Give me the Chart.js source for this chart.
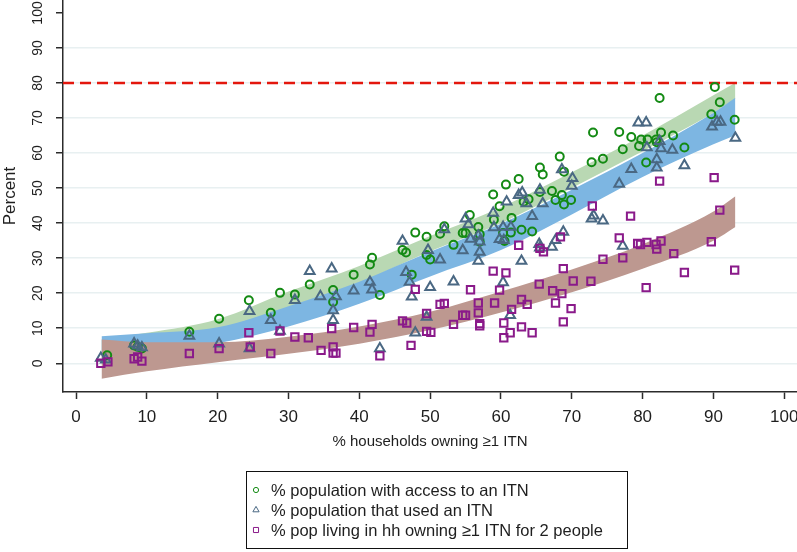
<!DOCTYPE html>
<html>
<head>
<meta charset="utf-8">
<script src="https://cdn.jsdelivr.net/npm/chart.js@4.4.1/dist/chart.umd.min.js"></script>
<style>
  html, body { margin: 0; padding: 0; background: #fff; }
  #wrap { width: 797px; height: 552px; }
</style>
</head>
<body>
<div id="wrap"><canvas id="chart" width="797" height="552"></canvas></div>
<script>
// Axis ranges and ticks
const X_MIN = -1.84, X_MAX = 101.8;
const Y_MIN = -8.2, Y_MAX = 103.7;
const X_TICKS = [0, 10, 20, 30, 40, 50, 60, 70, 80, 90, 100];
const Y_TICKS = [0, 10, 20, 30, 40, 50, 60, 70, 80, 90, 100];
const TARGET = 80;

const LABELS = [
    "% population with access to an ITN",
    "% population that used an ITN",
    "% pop living in hh owning \u22651 ITN for 2 people",
];

// Scatter points: [% households owning >=1 ITN, percent]
const ACCESS = [
    [4.4, 2.3], [8.2, 5.1], [8.7, 4.7], [9.3, 4.2], [16, 9], [20.2, 12.7], [24.4, 18], [27.5, 14.4],
    [28.8, 20.1], [30.9, 19.6], [33, 22.5], [36.3, 20.9], [36.3, 17.5], [39.2, 25.3], [41.5, 28.2],
    [41.8, 30.1], [42.9, 19.5], [46.1, 32.3], [46.6, 31.6], [47.4, 25.3], [47.9, 37.3], [49.5, 36.1],
    [49.5, 30.9], [50, 29.6], [51.4, 37], [52, 39.1], [53.3, 33.8], [54.6, 37.2], [55, 37.2],
    [55.6, 42.3], [56.8, 38.9], [57, 36.8], [57, 34.7], [58.9, 48.2], [59, 41], [59.8, 44.8],
    [60.3, 37.2], [60.5, 34.9], [60.7, 51], [61.4, 37.3], [61.5, 41.5], [62.5, 52.6], [62.9, 38.1],
    [63.2, 46.1], [63.9, 46.8], [64.4, 37.6], [65.5, 48.9], [65.5, 55.9], [65.9, 53.9], [67.2, 49.2],
    [67.7, 46.6], [68.3, 59], [68.6, 48], [68.9, 45.3], [68.9, 54.7], [69.9, 46.6], [72.8, 57.4],
    [73, 65.9], [74.4, 58.4], [76.7, 66], [77.2, 61.1], [78.4, 64.6], [79.5, 62], [79.8, 63.9],
    [80.5, 57.3], [80.7, 63.9], [81.9, 63.9], [82, 63.1], [82.4, 75.7], [82.6, 65.9], [84.3, 65],
    [85.9, 61.6], [89.7, 71.1], [90.2, 78.9], [90.9, 74.5], [93, 69.5],
];
const USED = [
    [3.5, 1.5], [4.2, 1.0], [8.2, 5.6], [8.7, 5.0], [9.3, 4.5], [16, 7.8], [20.2, 5.6], [24.5, 14.9],
    [24.5, 4.2], [27.5, 12.3], [28.8, 9.2], [30.9, 18], [33, 26.3], [34.5, 19.1], [36.1, 27],
    [36.3, 15.1], [36.3, 12.3], [36.7, 19.1], [39.2, 20.7], [41.5, 23.2], [41.8, 21], [42.9, 4.2],
    [46.1, 34.9], [46.6, 26], [47.1, 23.2], [47.4, 19], [47.9, 8.7], [49.5, 13.2], [49.7, 32.3],
    [50, 21.7], [51.4, 29.6], [52, 38.2], [53.3, 23.3], [54.6, 32.2], [55, 41.3], [55.4, 39.6],
    [55.7, 35.5], [56.8, 29.2], [56.8, 36.4], [57, 31.8], [57, 34.7], [58.9, 42.9], [59, 38.8],
    [59.8, 35.4], [60.3, 38.9], [60.3, 23.1], [60.4, 35.1], [60.8, 46.1], [61.3, 13.7], [61.4, 38.9],
    [62.5, 48], [62.9, 29.2], [63, 48.7], [63.6, 45.6], [64.4, 42], [65.4, 34], [65.5, 33],
    [65.5, 49.5], [65.9, 45.6], [67.2, 33.2], [67.7, 35.1], [68.6, 55.3], [68.8, 37.5], [70, 50.6],
    [70.1, 52.8], [72.8, 41.3], [73.1, 42.1], [74.4, 40.7], [76.7, 51.2], [77.2, 33.5], [78.4, 55.4],
    [79.4, 68.7], [80.5, 68.7], [80.6, 61.6], [82, 55.8], [82, 58.2], [82.4, 63.4], [82.6, 61.3],
    [84.2, 60.9], [85.9, 56.5], [89.8, 67.5], [90.5, 68.9], [91, 68.9], [93.1, 64.3],
];
const TWO_PER_NET = [
    [3.5, 0], [4.5, 0.4], [8.2, 1.3], [8.7, 1.8], [9.3, 0.6], [16, 2.8], [20.2, 4.2], [24.4, 8.7],
    [24.6, 4.7], [27.5, 2.8], [28.8, 9.2], [30.9, 7.5], [32.8, 7.3], [34.6, 3.7], [36.1, 9.9],
    [36.3, 4.7], [36.3, 2.9], [36.7, 2.9], [39.2, 10.2], [41.5, 8.9], [41.8, 11.1], [42.9, 2.1],
    [46.1, 12.1], [46.7, 11.5], [47.3, 5.1], [47.9, 21.1], [49.5, 14.2], [49.5, 9.1], [50.1, 8.8],
    [51.4, 16.8], [52, 17.1], [53.3, 11.1], [54.6, 13.7], [55, 13.7], [55.7, 21], [56.8, 17.2],
    [56.8, 14.4], [57, 11.3], [57, 10.7], [58.9, 26.3], [59.1, 17.2], [59.8, 20.9], [60.4, 11.5],
    [60.4, 7.3], [60.7, 25.8], [61.3, 8.7], [61.5, 15.4], [62.5, 33.7], [62.9, 18.2], [62.9, 10.4],
    [63.7, 16.8], [64.4, 8.7], [65.4, 22.6], [65.5, 32.8], [66, 31.8], [67.3, 20.7], [67.7, 17.2],
    [68.4, 36.1], [68.6, 19.9], [68.8, 27], [68.8, 11.8], [69.9, 15.6], [70.2, 23.5], [72.7, 23.4],
    [72.9, 44.9], [74.4, 29.7], [76.7, 35.8], [77.2, 30.1], [78.3, 42], [79.3, 34.2], [79.7, 33.9],
    [80.5, 21.6], [80.6, 34.5], [81.9, 33.9], [82, 32.6], [82.4, 52], [82.6, 34.9], [84.4, 31.3],
    [85.9, 25.9], [89.7, 34.7], [90.1, 53], [90.9, 43.7], [93, 26.6],
];

// Confidence bands of the fitted curves, read at these x values
const BAND_X = [3.6, 10, 20, 30, 40, 50, 60, 70, 80, 90, 93.1];
const ACCESS_HI = [6.8, 8.7, 12.6, 20.5, 27.8, 36.3, 44.5, 54.5, 65, 76.5, 80.1];
const ACCESS_LO = [1.0, 4.5, 8.5, 16, 23, 32, 40, 50, 60.5, 71.5, 75.5];
const USED_HI = [7.7, 8.6, 10.3, 16.3, 23.3, 31.8, 39.8, 49.5, 60, 71.5, 75.8];
const USED_LO = [1.5, 3.0, 5.7, 10.5, 17, 24.8, 32.3, 42.5, 53.2, 62.5, 65.1];
const TWO_HI = [6.8, 6.0, 6.0, 7.6, 10.5, 14.7, 20.5, 26.8, 34, 43.3, 47.7];
const TWO_LO = [-4.4, -2.3, 0.3, 2.7, 5.6, 9.5, 14.5, 20.3, 27, 35, 38.9];

const FONT = "'Liberation Sans', Arial, Helvetica, sans-serif";
const TEXT = "#1e1e1e";
const AXIS = "#2b2b2b";

const C_ACCESS = "#138a13";
const C_USED = "#4a6883";
const C_TWO = "#8a1a8a";

const toPts = (pairs) => pairs.map(([x, y]) => ({ x, y }));
const bandPts = (vals) => BAND_X.map((x, i) => ({ x, y: vals[i] }));

function band(hi, lo, color, order) {
    return [
        {
            type: "line", data: bandPts(hi), order,
            borderWidth: 0, borderColor: "rgba(0,0,0,0)", pointRadius: 0,
            cubicInterpolationMode: "monotone", fill: "+1", backgroundColor: color,
        },
        {
            type: "line", data: bandPts(lo), order,
            borderWidth: 0, borderColor: "rgba(0,0,0,0)", pointRadius: 0,
            cubicInterpolationMode: "monotone", fill: false,
        },
    ];
}

const MARKERS = [
    { style: "circle", color: C_ACCESS, radius: 4, legendRadius: 2.6 },
    { style: "triangle", color: C_USED, radius: 5.6, legendRadius: 3.6 },
    { style: "rect", color: C_TWO, radius: 5.2, legendRadius: 3.6 },
];

// Boxed legend in one left-aligned column, drawn below the axis title
const boxLegend = {
    id: "boxLegend",
    afterDraw(chart) {
        const c = chart.ctx;
        c.save();
        c.strokeStyle = "#111";
        c.lineWidth = 1;
        c.strokeRect(246.5, 471.5, 381, 77);
        c.font = "16.5px " + FONT;
        c.textBaseline = "middle";
        c.fillStyle = TEXT;
        LABELS.forEach((label, i) => {
            const y = 490 + i * 20;
            const m = MARKERS[i];
            c.save();
            c.strokeStyle = m.color;
            c.fillStyle = "rgba(0,0,0,0)";
            Chart.helpers.drawPoint(c, { pointStyle: m.style, radius: m.legendRadius, borderWidth: 1.5, rotation: 0 }, 256, y);
            c.restore();
            c.fillText(label, 271, y + 1);
        });
        c.restore();
    },
};

const scatter = (pairs, i, order) => ({
    type: "scatter",
    label: LABELS[i],
    data: toPts(pairs),
    order,
    pointStyle: MARKERS[i].style,
    pointRadius: MARKERS[i].radius,
    pointBorderWidth: 2,
    pointBorderColor: MARKERS[i].color,
    pointBackgroundColor: "rgba(0,0,0,0)",
    borderColor: MARKERS[i].color,
    backgroundColor: "rgba(0,0,0,0)",
});

const ctx = document.getElementById("chart").getContext("2d");
new Chart(ctx, {
    type: "scatter",
    data: {
        datasets: [
            scatter(TWO_PER_NET, 2, 0),
            scatter(USED, 1, 1),
            scatter(ACCESS, 0, 2),
            {
                type: "line", order: 3,
                data: [{ x: X_MIN, y: TARGET }, { x: X_MAX, y: TARGET }],
                borderColor: "#e3170d", borderWidth: 2.6, borderDash: [11, 6],
                pointRadius: 0, fill: false,
            },
            ...band(TWO_HI, TWO_LO, "#bd9890", 4),
            ...band(USED_HI, USED_LO, "#7db6e2", 5),
            ...band(ACCESS_HI, ACCESS_LO, "#b9d8b3", 6),
        ],
    },
    options: {
        responsive: false,
        animation: false,
        layout: { autoPadding: false, padding: { left: 0, right: 0, top: 0, bottom: 100 } },
        plugins: {
            legend: { display: false },
            tooltip: { enabled: false },
        },
        scales: {
            x: {
                type: "linear",
                min: X_MIN,
                max: X_MAX,
                afterBuildTicks: (s) => { s.ticks = X_TICKS.map((v) => ({ value: v })); },
                afterFit: (s) => { s.height = 60; s.paddingLeft = 0; s.paddingRight = 0; },
                grid: { display: true, drawOnChartArea: false, tickLength: 7, tickColor: AXIS, tickWidth: 1.5 },
                border: { display: true, color: AXIS, width: 1.5 },
                ticks: { font: { family: FONT, size: 17 }, color: TEXT, padding: 8, maxRotation: 0, autoSkip: false },
                title: {
                    display: true, text: "% households owning \u22651 ITN",
                    font: { family: FONT, size: 15 }, color: TEXT, padding: 1,
                },
            },
            y: {
                type: "linear",
                min: Y_MIN,
                max: Y_MAX,
                afterBuildTicks: (s) => { s.ticks = Y_TICKS.map((v) => ({ value: v })); },
                afterFit: (s) => { s.width = 63; s.paddingTop = 0; s.paddingBottom = 0; },
                grid: {
                    color: (c) => (c.tick && c.tick.value === 100 ? "rgba(0,0,0,0)" : "#e8f0f1"),
                    lineWidth: 1.5,
                    tickLength: 7,
                    tickColor: AXIS,
                    tickWidth: 1.5,
                },
                border: { display: true, color: AXIS, width: 1.5 },
                ticks: {
                    font: { family: FONT, size: 14 }, color: TEXT,
                    minRotation: 90, maxRotation: 90, crossAlign: "center", padding: 6,
                },
                title: {
                    display: true, text: "Percent",
                    font: { family: FONT, size: 17 }, color: TEXT, padding: 0,
                },
            },
        },
    },
    plugins: [boxLegend],
});
</script>
</body>
</html>
